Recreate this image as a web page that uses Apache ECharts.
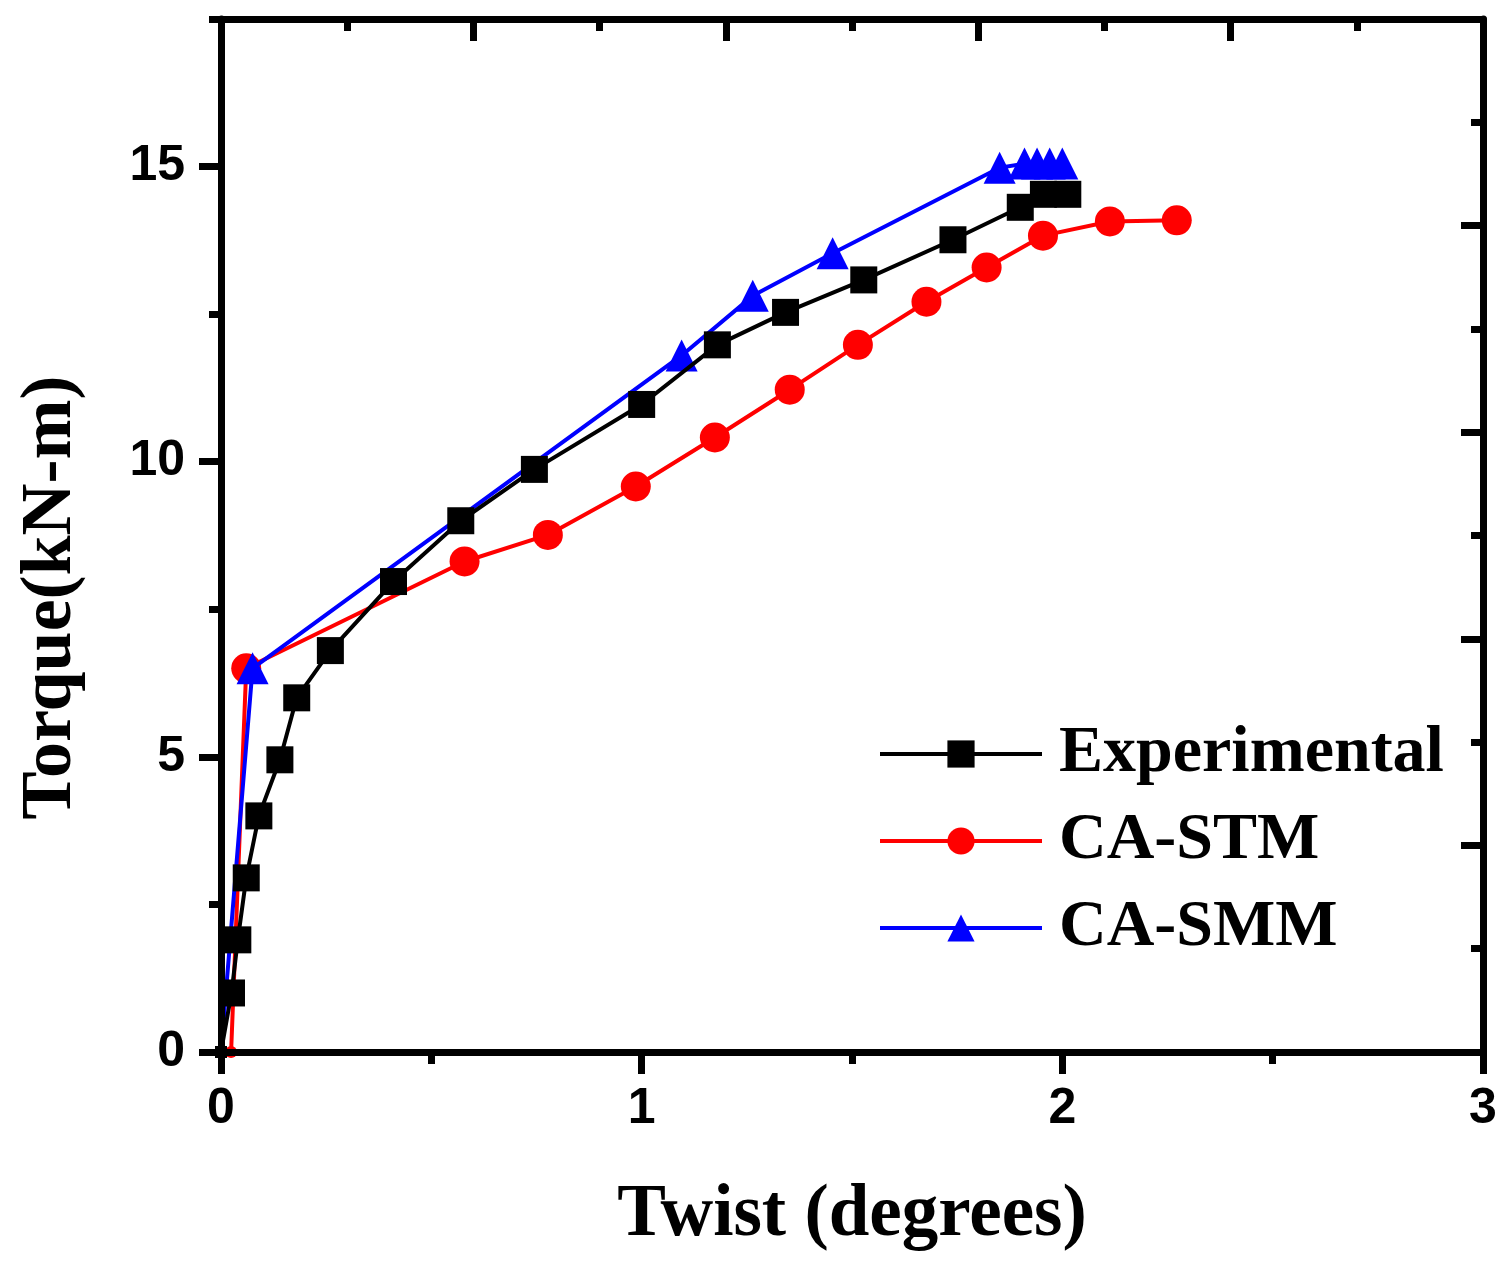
<!DOCTYPE html>
<html>
<head>
<meta charset="utf-8">
<script src="https://cdn.jsdelivr.net/npm/echarts@6/dist/echarts.min.js"></script>
<style>
  html, body { margin: 0; padding: 0; background: #fff; }
  #chart { width: 1502px; height: 1261px; }
</style>
</head>
<body>
<div id="chart"></div>
<script>
// ---- data ----
const expX = [0, 0.025, 0.04, 0.06, 0.09, 0.14, 0.18, 0.26, 0.41, 0.57, 0.745, 1.0, 1.18, 1.342, 1.528, 1.74, 1.90, 1.955, 2.013];
const expY = [0, 1.0, 1.9, 2.95, 4.0, 4.95, 6.0, 6.8, 7.97, 9.0, 9.87, 10.97, 11.98, 12.53, 13.08, 13.76, 14.31, 14.53, 14.53];
const stmX = [0.024, 0.06, 0.579, 0.777, 0.986, 1.174, 1.352, 1.514, 1.677, 1.82, 1.954, 2.113, 2.272];
const stmY = [0, 6.5, 8.31, 8.76, 9.58, 10.41, 11.22, 11.98, 12.71, 13.29, 13.83, 14.07, 14.09];
const smmX = [0, 0.075, 1.095, 1.264, 1.454, 1.851, 1.91, 1.94, 1.97, 2.0];
const smmY = [0, 6.5, 11.8, 12.81, 13.53, 14.98, 15.05, 15.05, 15.05, 15.05];
const seriesNames = ['Experimental', 'CA-STM', 'CA-SMM'];

const xMin = 0, xMax = 3;
const yMin = 0, yMax = 17.5;
const xMajorTicks = [0, 1, 2, 3];
const xMinorTicks = [0.5, 1.5, 2.5];
const yMajorTicks = [0, 5, 10, 15];
const yMinorTicks = [2.5, 7.5, 12.5, 17.5];
const topMajorTicks = [0.6, 1.2, 1.8, 2.4];
const topMinorTicks = [0.3, 0.9, 1.5, 2.1, 2.7];
const rightMajorTicks = [3.5, 7, 10.5, 14];
const rightMinorTicks = [1.75, 5.25, 8.75, 12.25, 15.75];

const zip = (xs, ys) => xs.map((x, i) => [x, ys[i]]);

const AX = 7;
const SANS = 'Liberation Sans';
const SERIF = 'Liberation Serif';

function xAx(pos, ticks, len, inside, withLine, labels, name) {
  const a = {
    type: 'value', position: pos, min: xMin, max: xMax, z: 10,
    splitLine: { show: false },
    axisLine: { show: withLine, onZero: false, lineStyle: { color: '#000', width: AX } },
    axisTick: { show: true, inside: inside, length: len, customValues: ticks, lineStyle: { color: '#000', width: AX } },
    axisLabel: labels ? { show: true, customValues: labels, margin: 32, color: '#000', fontSize: 50, fontWeight: 'bold', fontFamily: SANS } : { show: false }
  };
  if (name) {
    a.name = name; a.nameLocation = 'middle'; a.nameGap = 128;
    a.nameTextStyle = { color: '#000', fontSize: 73, fontWeight: 'bold', fontFamily: SERIF };
  }
  return a;
}
function yAx(pos, ticks, len, inside, withLine, labels, name) {
  const a = {
    type: 'value', position: pos, min: yMin, max: yMax, z: 10,
    splitLine: { show: false },
    axisLine: { show: withLine, onZero: false, lineStyle: { color: '#000', width: AX } },
    axisTick: { show: true, inside: inside, length: len, customValues: ticks, lineStyle: { color: '#000', width: AX } },
    axisLabel: labels ? { show: true, customValues: labels, margin: 36, color: '#000', fontSize: 50, fontWeight: 'bold', fontFamily: SANS } : { show: false }
  };
  if (name) {
    a.name = name; a.nameLocation = 'middle'; a.nameGap = 134; a.nameRotate = 90;
    a.nameTextStyle = { color: '#000', fontSize: 72, fontWeight: 'bold', fontFamily: SERIF, padding: [0, 124, 0, 0] };
  }
  return a;
}

const symSize = (base) => (v) => (v[1] === 0 ? 12 : base);

const chart = echarts.init(document.getElementById('chart'), null, { renderer: 'canvas' });
chart.setOption({
  animation: false,
  backgroundColor: '#fff',
  grid: { left: 221, right: 19, top: 19, bottom: 209, containLabel: false },
  xAxis: [
    xAx('bottom', xMajorTicks, 22, false, true, xMajorTicks, 'Twist (degrees)'),
    xAx('bottom', xMinorTicks, 12, false, false, null, null),
    xAx('top', topMajorTicks, 22, true, true, null, null),
    xAx('top', topMinorTicks, 12, true, false, null, null)
  ],
  yAxis: [
    yAx('left', yMajorTicks, 22, false, true, yMajorTicks, 'Torque(kN-m)'),
    yAx('left', yMinorTicks, 12, false, false, null, null),
    yAx('right', rightMajorTicks, 22, true, true, null, null),
    yAx('right', rightMinorTicks, 12, true, false, null, null)
  ],
  legend: {
    orient: 'vertical', left: 878, top: 721, padding: 0,
    itemWidth: 162, itemHeight: 34, itemGap: 21,
    data: seriesNames,
    lineStyle: { width: 4 },
    textStyle: { color: '#000', fontSize: 66, fontWeight: 'bold', fontFamily: SERIF, padding: [0, 0, 0, 12] }
  },
  series: [
    {
      name: seriesNames[0], type: 'line', data: zip(expX, expY), z: 5,
      xAxisIndex: 0, yAxisIndex: 0,
      symbol: 'rect', symbolSize: symSize(27), clip: false,
      lineStyle: { color: '#000', width: 4 }, itemStyle: { color: '#000' }
    },
    {
      name: seriesNames[1], type: 'line', data: zip(stmX, stmY), z: 3,
      xAxisIndex: 0, yAxisIndex: 0,
      symbol: 'circle', symbolSize: symSize(30), clip: false,
      lineStyle: { color: '#ff0000', width: 4 }, itemStyle: { color: '#ff0000' }
    },
    {
      name: seriesNames[2], type: 'line', data: zip(smmX, smmY), z: 4,
      xAxisIndex: 0, yAxisIndex: 0,
      symbol: 'triangle', symbolSize: symSize(32), clip: false,
      lineStyle: { color: '#0000ff', width: 4 }, itemStyle: { color: '#0000ff' }
    }
  ]
});
</script>
</body>
</html>
